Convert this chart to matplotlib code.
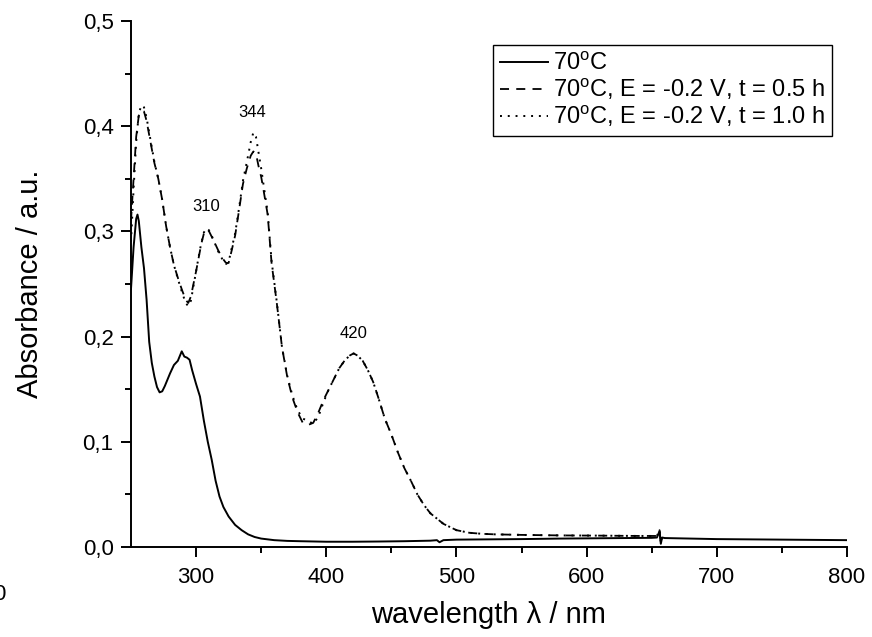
import matplotlib
matplotlib.use('Agg')
import matplotlib.pyplot as plt

plt.rcParams['font.family'] = ['Liberation Sans', 'DejaVu Sans']
plt.rcParams['mathtext.fontset'] = 'custom'
plt.rcParams['mathtext.rm'] = 'Liberation Sans'

# 70 C, no potential
wl_a = [250, 252, 254, 255, 256, 258, 260, 262, 264, 266, 268, 270, 272, 274, 276, 278,
        280, 283, 286, 288, 289, 291, 293, 295, 297, 300, 303, 306, 309, 312, 315, 318,
        321, 325, 330, 335, 340, 345, 350, 360, 370, 380, 400, 420, 440, 460, 480, 485,
        487, 490, 500, 520, 550, 580, 600, 630, 650, 654, 656, 657, 658, 660, 680, 700,
        750, 800]
abs_a = [0.245, 0.285, 0.312, 0.316, 0.31, 0.285, 0.265, 0.235, 0.195, 0.175, 0.162, 0.152,
         0.147, 0.148, 0.153, 0.159, 0.165, 0.173, 0.177, 0.183, 0.186, 0.181, 0.18, 0.178,
         0.168, 0.155, 0.143, 0.12, 0.1, 0.083, 0.063, 0.048, 0.038, 0.029, 0.021, 0.016,
         0.012, 0.0095, 0.008, 0.0065, 0.0058, 0.0055, 0.005, 0.005, 0.0052, 0.0055, 0.006,
         0.0065, 0.0045, 0.0065, 0.007, 0.0072, 0.0075, 0.008, 0.0082, 0.0085, 0.0087, 0.009,
         0.015, 0.003, 0.009, 0.0085, 0.008, 0.0075, 0.007, 0.0065]

# 70 C, E = -0.2 V (0.5 h and 1.0 h share one grid)
wl_b = [250, 252, 254, 256, 258, 260, 262, 265, 268, 271, 274, 277, 280, 283, 286, 289,
        292, 294, 296, 298, 300, 302, 304, 306, 308, 310, 312, 314, 317, 320, 323, 325,
        327, 330, 333, 336, 339, 342, 344, 346, 348, 350, 352, 355, 358, 362, 366, 370,
        374, 378, 382, 386, 390, 394, 398, 402, 406, 410, 414, 418, 421, 424, 428, 432,
        436, 440, 445, 450, 455, 460, 465, 470, 475, 480, 490, 500, 510, 520, 530, 550,
        580, 610, 640, 654, 656, 657, 658]
abs_b = [0.31, 0.35, 0.39, 0.41, 0.415, 0.414, 0.405, 0.385, 0.365, 0.35, 0.33, 0.305,
         0.285, 0.268, 0.256, 0.245, 0.235, 0.232, 0.238, 0.25, 0.262, 0.275, 0.288, 0.298,
         0.302, 0.3, 0.295, 0.29, 0.282, 0.275, 0.27, 0.27, 0.28, 0.296, 0.32, 0.345, 0.36,
         0.372, 0.376, 0.374, 0.362, 0.352, 0.338, 0.316, 0.27, 0.232, 0.19, 0.162, 0.142,
         0.128, 0.118, 0.116, 0.118, 0.128, 0.14, 0.15, 0.16, 0.17, 0.177, 0.182, 0.184,
         0.182, 0.177, 0.168, 0.157, 0.142, 0.122, 0.107, 0.09, 0.075, 0.063, 0.05, 0.04,
         0.032, 0.022, 0.016, 0.0135, 0.0125, 0.012, 0.0115, 0.011, 0.0108, 0.0105, 0.0105,
         0.016, 0.004, 0.009]
abs_c = [0.29, 0.34, 0.385, 0.412, 0.42, 0.418, 0.408, 0.387, 0.366, 0.35, 0.33, 0.305,
         0.285, 0.268, 0.255, 0.243, 0.232, 0.229, 0.234, 0.248, 0.262, 0.276, 0.289, 0.299,
         0.303, 0.301, 0.296, 0.29, 0.281, 0.274, 0.269, 0.271, 0.282, 0.298, 0.322, 0.348,
         0.366, 0.385, 0.394, 0.39, 0.375, 0.36, 0.343, 0.318, 0.272, 0.233, 0.19, 0.163,
         0.144, 0.13, 0.122, 0.12, 0.117, 0.124, 0.138, 0.15, 0.16, 0.17, 0.177, 0.182, 0.184,
         0.182, 0.177, 0.168, 0.157, 0.142, 0.122, 0.107, 0.09, 0.075, 0.063, 0.05, 0.04,
         0.032, 0.022, 0.016, 0.0135, 0.0125, 0.012, 0.0115, 0.011, 0.0108, 0.0105, 0.0105,
         0.016, 0.004, 0.009]

labels = ['70$^\\mathregular{o}$C',
          '70$^\\mathregular{o}$C, E = -0.2 V, t = 0.5 h',
          '70$^\\mathregular{o}$C, E = -0.2 V, t = 1.0 h']
peaks = [('310', 308, 0.324), ('344', 343, 0.413), ('420', 421, 0.203)]

x_ticks = [300, 400, 500, 600, 700, 800]
y_ticks = [0.0, 0.1, 0.2, 0.3, 0.4, 0.5]
y_ticklabels = ['0,0', '0,1', '0,2', '0,3', '0,4', '0,5']

fig = plt.figure(figsize=(8.72, 6.37), dpi=100)
ax = fig.add_axes([0.1502, 0.1413, 0.8211, 0.8257])

ax.plot(wl_a, abs_a, color='black', lw=1.4, label=labels[0])
ax.plot(wl_b, abs_b, color='black', lw=1.3, ls=(0, (5, 4)), label=labels[1])
ax.plot(wl_b, abs_c, color='black', lw=1.4, ls=(0, (1, 3)), label=labels[2])

for txt, x, y in peaks:
    ax.text(x, y, txt, fontsize=12, ha='center', va='center')

ax.set_xlim(250, 800)
ax.set_ylim(0, 0.5)
ax.set_xticks(x_ticks)
ax.set_xticks([350, 450, 550, 650, 750], minor=True)
ax.set_yticks(y_ticks)
ax.set_yticklabels(y_ticklabels)
ax.set_yticks([0.05, 0.15, 0.25, 0.35, 0.45], minor=True)

for s in ['top', 'right']:
    ax.spines[s].set_visible(False)
for s in ['left', 'bottom']:
    ax.spines[s].set_linewidth(1.4)
ax.tick_params(which='major', length=7.5, width=1.4, labelsize=16, pad=5)
ax.tick_params(axis='x', which='major', pad=7)
ax.tick_params(which='minor', length=4, width=1.4)

ax.set_xlabel('wavelength λ / nm', fontsize=21, labelpad=9)
ax.set_ylabel('Absorbance / a.u.', fontsize=21)
ax.yaxis.set_label_coords(-0.122, 0.5)

leg = ax.legend(loc='upper right', bbox_to_anchor=(0.979, 0.954), borderaxespad=0,
                fontsize=17, frameon=True, fancybox=False, framealpha=1,
                handlelength=2.05, handletextpad=0.2, labelspacing=0.05,
                borderpad=0.3)
leg.get_frame().set_edgecolor('black')
leg.get_frame().set_linewidth(1.0)

# clipped tick label at the left edge of the original figure
fig.text(-0.008, 0.066, '0', fontsize=16, ha='left', va='center')

fig.savefig('out.png', dpi=100)
